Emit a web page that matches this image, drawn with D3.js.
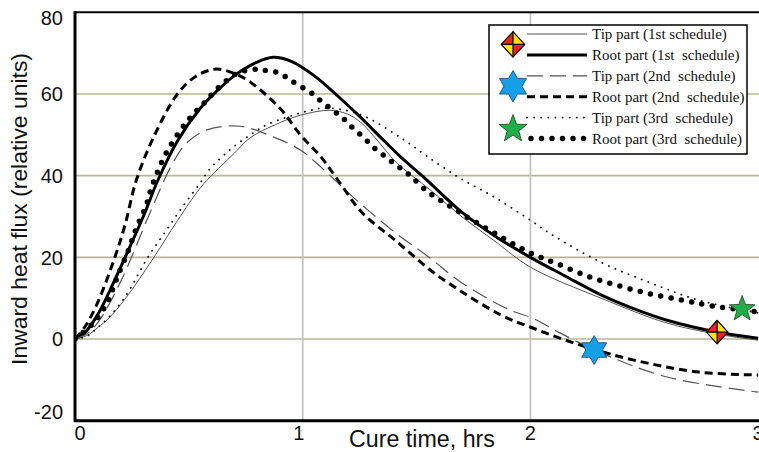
<!DOCTYPE html>
<html><head><meta charset="utf-8">
<script src="https://cdn.jsdelivr.net/npm/d3@7"></script>
<style>
body{margin:0;background:#fff;}
svg{display:block;}
text{font-family:"Liberation Sans",Arial,sans-serif;fill:#111;}
.leg{font-family:"Liberation Serif","Times New Roman",serif;font-size:15px;white-space:pre;}
</style></head><body>
<svg id="c" width="759" height="452"></svg>
<script>
// ---- data ----
const xTicks = [0, 1, 2, 3];
const yTicks = [-20, 0, 20, 40, 60, 80];
const xTitle = "Cure time, hrs";
const yTitle = "Inward heat flux (relative units)";

const root1T = [0,0.05,0.1,0.15,0.22,0.3,0.365,0.45,0.55,0.61,0.7,0.8,0.87,0.95,1.05,1.16,1.25,1.34,1.43,1.53,1.7,1.85,2.0,2.15,2.31,2.45,2.6,2.82,3.0];
const root1V = [0,2,6,11.5,20,30,39,48.5,56.5,60,64.5,67.8,69,68,64.5,59.2,54.5,49.5,44.6,39.7,31,25,20,15.5,10.8,7.5,4.6,1.7,0.2];

const tip1T = [0,0.05,0.1,0.15,0.22,0.35,0.45,0.55,0.61,0.7,0.77,0.88,0.99,1.12,1.2,1.26,1.33,1.41,1.56,1.7,1.85,2.0,2.31,2.6,2.82,3.0];
const tip1V = [0,0.8,2.8,5.2,9.8,20.3,29,37,40.6,45.5,49.3,52.5,54.8,56,55,52.8,48.5,43.3,36.5,29.9,23.7,17.6,10,3.9,1.2,-0.3];

const root2T = [0,0.044,0.1,0.175,0.22,0.27,0.35,0.45,0.53,0.62,0.7,0.77,0.9,0.99,1.08,1.16,1.26,1.41,1.56,1.64,1.87,2.01,2.22,2.45,2.74,3.0];
const root2V = [0,3,9,20,28,39,50,60,64.3,66.1,65,62.9,56.5,50,44.6,38.5,31,24,16.9,13.7,5.9,2.7,-1.5,-5.1,-8.1,-8.8];

const tip2T = [0,0.05,0.1,0.2,0.33,0.42,0.49,0.58,0.725,0.87,0.99,1.08,1.22,1.41,1.56,1.7,1.91,2.01,2.13,2.31,2.6,3.0];
const tip2V = [0,1.2,4,14,31,42.1,48,51.2,52.1,49.5,46.3,42.1,34.8,25.9,19.8,13.7,7.1,5.1,1.5,-3.4,-9.3,-13];

const root3T = [0,0.08,0.14,0.18,0.235,0.27,0.31,0.34,0.4,0.49,0.57,0.62,0.71,0.8,0.85,0.9,0.94,0.99,1.04,1.08,1.13,1.18,1.22,1.27,1.31,1.36,1.41,1.46,1.55,1.64,1.73,1.88,2.01,2.11,2.25,2.39,2.53,2.67,2.8,3.0];
const root3V = [0,3.9,8.8,14.4,21.8,27.2,32.3,37.7,45.5,53.1,58,61,65,66.1,65.6,65.1,63.6,61.9,60.2,58.3,56.1,53.9,51.7,49.2,47,44.8,42.6,40.6,36,32.8,29.6,24.7,20.8,18.6,15.4,13,11,9.5,8.1,6.6];

const tip3T = [0,0.05,0.1,0.145,0.22,0.32,0.4,0.48,0.55,0.59,0.68,0.77,0.84,0.93,1.02,1.09,1.19,1.28,1.4,1.46,1.55,1.69,1.84,2.0,2.09,2.31,2.53,2.74,3.0];
const tip3V = [0,0.6,2.8,5.1,10.3,20,26.5,33,38.2,41.5,46.3,50,52.4,54.3,55.8,56.5,56,54.3,50.4,48.2,44.6,39.4,34.8,29.1,25.7,18.8,13.7,9.5,6.4];

const seriesNames = ["Tip part (1st schedule)","Root part (1st  schedule)","Tip part (2nd  schedule)","Root part (2nd  schedule)","Tip part (3rd  schedule)","Root part (3rd  schedule)"];

const markerNames = ["diamond","hexagram","star"];
const markerT = [2.82, 2.28, 2.93];
const markerV = [1.7, -2.7, 7.6];

// ---- styles ----
const styles = [
  {stroke:"#555", w:1, dash:null, cap:"butt"},
  {stroke:"#000", w:3, dash:null, cap:"butt"},
  {stroke:"#555", w:1.2, dash:"16,7", cap:"butt"},
  {stroke:"#000", w:3, dash:"8,5", cap:"butt"},
  {stroke:"#000", w:1.8, dash:"0.1,7", cap:"round"},
  {stroke:"#000", w:5.5, dash:"0,10.5", cap:"round"}
];

const svg = d3.select("#c");
const L = 75, R = 758.1, T = 12.3, B = 420.7;
const x = d3.scaleLinear().domain([0,3]).range([L,R]);
const y = d3.scaleLinear().domain([-20,80]).range([B,T]);

svg.append("defs").append("clipPath").attr("id","clip")
  .append("rect").attr("x",L).attr("y",T).attr("width",R-L+2).attr("height",B-T);

// grid
svg.append("g").selectAll("line").data([0,20,40,60]).join("line")
  .attr("x1",L).attr("x2",759).attr("y1",d=>y(d)).attr("y2",d=>y(d))
  .attr("stroke","#b6b69a").attr("stroke-width",1.6);
svg.append("g").selectAll("line").data([1,2]).join("line")
  .attr("x1",d=>x(d)).attr("x2",d=>x(d)).attr("y1",T).attr("y2",B)
  .attr("stroke","#c4c4c4").attr("stroke-width",1.8);

// curves
const data = [
  d3.zip(tip1T,tip1V), d3.zip(root1T,root1V),
  d3.zip(tip2T,tip2V), d3.zip(root2T,root2V),
  d3.zip(tip3T,tip3V), d3.zip(root3T,root3V)
];
const line = d3.line().x(d=>x(d[0])).y(d=>y(d[1])).curve(d3.curveCatmullRom.alpha(0.5));
const gc = svg.append("g").attr("clip-path","url(#clip)");
data.forEach((d,i)=>{
  const s = styles[i];
  gc.append("path").attr("d",line(d)).attr("fill","none")
    .attr("stroke",s.stroke).attr("stroke-width",s.w)
    .attr("stroke-dasharray",s.dash).attr("stroke-linecap",s.cap);
});

// axes frame
svg.append("line").attr("x1",L).attr("x2",L).attr("y1",T-1).attr("y2",B+1).attr("stroke","#000").attr("stroke-width",3);
svg.append("line").attr("x1",L-1).attr("x2",759).attr("y1",B).attr("y2",B).attr("stroke","#000").attr("stroke-width",3);
svg.append("line").attr("x1",L).attr("x2",759).attr("y1",T).attr("y2",T).attr("stroke","#000").attr("stroke-width",2);

// tick labels
const yAdj = v => v===80 ? 5 : (v===-20 ? -9 : 0);
svg.append("g").selectAll("text").data(yTicks).join("text")
  .attr("x",63).attr("y",d=>y(d)+yAdj(d)).attr("dy","0.36em")
  .attr("text-anchor","end").attr("font-size",20).text(d=>d);
svg.append("g").selectAll("text").data(xTicks).join("text")
  .attr("x",d=>x(d) + (d===0?5:(d===1?-4:0))).attr("y",440)
  .attr("text-anchor","middle").attr("font-size",20).text(d=>d);

// axis titles, sized to the widths seen in the reference
function fitText(sel, target){
  const w = sel.node().getComputedTextLength();
  sel.attr("font-size", 20 * target / w);
}
const xt = svg.append("text").attr("x",422).attr("y",447).attr("text-anchor","middle")
  .attr("font-size",20).text(xTitle);
fitText(xt, 146);
const yt = svg.append("text").attr("transform","translate(27,209) rotate(-90)")
  .attr("text-anchor","middle").attr("font-size",20).text(yTitle);
fitText(yt, 312);

// markers
function diamond(g, cx, cy, hw, hh){
  const gg = g.append("g");
  const tri = [
    [[cx,cy],[cx-hw,cy],[cx,cy-hh],"#ee2020"],
    [[cx,cy],[cx,cy-hh],[cx+hw,cy],"#ffe600"],
    [[cx,cy],[cx+hw,cy],[cx,cy+hh],"#ee2020"],
    [[cx,cy],[cx,cy+hh],[cx-hw,cy],"#ffe600"]
  ];
  tri.forEach(t=>gg.append("path").attr("d","M"+t[0]+"L"+t[1]+"L"+t[2]+"Z").attr("fill",t[3]));
  gg.append("path").attr("d",`M${cx-hw},${cy}L${cx+hw},${cy}M${cx},${cy-hh}L${cx},${cy+hh}`).attr("stroke","#000").attr("stroke-width",1.2);
  gg.append("path").attr("d",`M${cx-hw},${cy}L${cx},${cy-hh}L${cx+hw},${cy}L${cx},${cy+hh}Z`).attr("fill","none").attr("stroke","#000").attr("stroke-width",1.2);
}
function starPath(cx, cy, n, ro, ri){
  const p = [];
  for(let k=0;k<2*n;k++){
    const r = k%2===0 ? ro : ri;
    const a = -Math.PI/2 + k*Math.PI/n;
    p.push([cx + r*Math.cos(a), cy + r*Math.sin(a)]);
  }
  return "M" + p.map(q=>q.join(",")).join("L") + "Z";
}
function drawMarker(g, name, cx, cy, big){
  const s = big ? 1.08 : 1;
  if(name==="diamond") diamond(g,cx,cy,10.8*s,11.8*s);
  else if(name==="hexagram") g.append("path").attr("d",starPath(cx,cy,6,14.5*s,8.4*s)).attr("fill","#15a0e6").attr("stroke","#1a3a6a").attr("stroke-width",0.8);
  else g.append("path").attr("d",starPath(cx,cy+1,5,13.5*s,5.6*s)).attr("fill","#21ad4a").attr("stroke","#1d3d20").attr("stroke-width",0.8);
}
const gm = svg.append("g");
markerNames.forEach((n,i)=>drawMarker(gm,n,x(markerT[i]),y(markerV[i]),false));

// legend
const lg = svg.append("g");
lg.append("rect").attr("x",489).attr("y",25).attr("width",258).attr("height",129)
  .attr("fill","#fff").attr("stroke","#000").attr("stroke-width",1.5);
const rowY = d3.range(6).map(i=>34 + i*20.9);
seriesNames.forEach((nm,i)=>{
  const s = styles[i];
  lg.append("line").attr("x1",i===5?531:527).attr("x2",587).attr("y1",rowY[i]).attr("y2",rowY[i])
    .attr("stroke",s.stroke).attr("stroke-width",s.w).attr("stroke-dasharray",s.dash).attr("stroke-linecap",s.cap);
  lg.append("text").attr("class","leg").attr("x",592).attr("y",rowY[i]+5).text(nm);
});
markerNames.forEach((n,i)=>drawMarker(lg,n,513,(rowY[2*i]+rowY[2*i+1])/2,true));
</script>
</body></html>
